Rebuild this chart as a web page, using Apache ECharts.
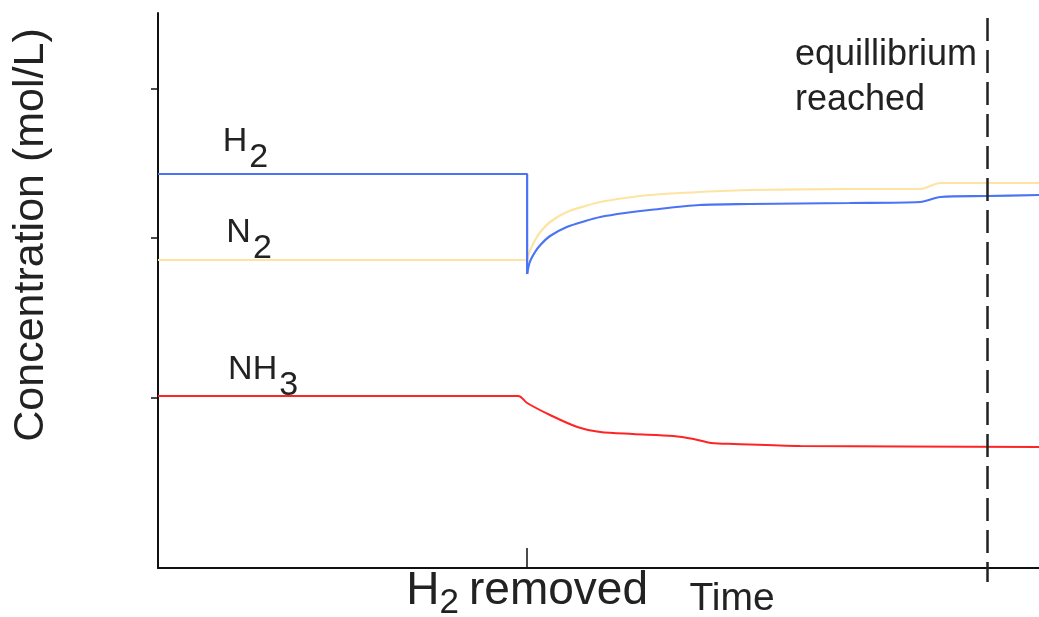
<!DOCTYPE html>
<html>
<head>
<meta charset="utf-8">
<style>
  html, body { margin: 0; padding: 0; background: #fff; }
  #chart { width: 1039px; height: 617px; }
</style>
<script src="https://cdn.jsdelivr.net/npm/echarts@6/dist/echarts.min.js"></script>
</head>
<body>
<div id="chart"></div>
<script>
// time axis in arbitrary units (0..10), concentration in arbitrary units
const removedAt = 4.19;
const equilibriumAt = 9.41;
const yTicks = [1.70, 3.30, 4.79];

const h2Time = [0, 4.19, 4.19, 4.22, 4.28, 4.34, 4.45, 4.64, 4.85, 5.02, 5.30, 5.58, 6.15, 6.72, 7.85, 8.65, 8.88, 9.41, 10];
const h2Conc = [3.94, 3.94, 2.94, 3.06, 3.16, 3.23, 3.32, 3.41, 3.47, 3.51, 3.55, 3.58, 3.63, 3.64, 3.65, 3.66, 3.71, 3.72, 3.73];
const h2DropIndex = 2; // point where H2 is removed (bottom of the drop)

const n2Time = [0, 4.17, 4.22, 4.28, 4.34, 4.45, 4.64, 4.85, 5.02, 5.30, 5.58, 6.15, 6.72, 7.85, 8.65, 8.88, 10];
const n2Conc = [3.08, 3.08, 3.17, 3.28, 3.36, 3.46, 3.56, 3.62, 3.66, 3.70, 3.73, 3.76, 3.78, 3.79, 3.79, 3.85, 3.85];

const nh3Time = [0, 4.09, 4.19, 4.45, 4.76, 5.02, 5.39, 5.85, 6.08, 6.28, 6.54, 7.29, 10];
const nh3Conc = [1.72, 1.72, 1.65, 1.53, 1.41, 1.36, 1.34, 1.32, 1.29, 1.25, 1.24, 1.22, 1.21];

const zip = (xs, ys) => xs.map((x, i) => [x, ys[i]]);
const h2Data = zip(h2Time, h2Conc);

const ink = '#222';
const font = 'Liberation Sans';
const blue = '#4a73f5';

// label for a series: big letters + lowered subscript
const speciesLabel = (main, sub) => ({
  show: true,
  position: 'right',
  distance: 0,
  formatter: '{m|' + main + '}{s|' + sub + '}',
  rich: {
    m: { fontSize: 34, fontFamily: font, color: ink, verticalAlign: 'top', lineHeight: 36 },
    s: { fontSize: 34, fontFamily: font, color: ink, verticalAlign: 'top', lineHeight: 36, padding: [16, 0, 0, 2] }
  }
});

const hidden = { color: 'rgba(0,0,0,0)' };

const option = {
  animation: false,
  grid: { left: 158, right: 0, top: 13, bottom: 49, outerBoundsMode: 'none', containLabel: false },
  xAxis: [
    {
      type: 'value', min: 0, max: 10,
      axisLine: { lineStyle: { color: '#111', width: 2 } },
      axisTick: { inside: true, length: 20, customValues: [removedAt], lineStyle: { color: '#111', width: 1.5 } },
      axisLabel: {
        customValues: [removedAt],
        margin: 0,
        formatter: () => '{h|H}{s|2}{r|removed}',
        rich: {
          h: { fontSize: 46, fontFamily: font, color: ink, verticalAlign: 'top', lineHeight: 40 },
          s: { fontSize: 35, fontFamily: font, color: ink, verticalAlign: 'top', lineHeight: 40, padding: [18, 10, 0, 0] },
          r: { fontSize: 46, fontFamily: font, color: ink, verticalAlign: 'top', lineHeight: 40 }
        }
      },
      splitLine: { show: false }
    },
    {
      type: 'value', min: 0, max: 10, position: 'bottom',
      axisLine: { show: false },
      axisTick: { length: 14, customValues: [equilibriumAt], lineStyle: { color: ink, width: 2.5 } },
      axisLabel: { show: false },
      splitLine: { show: false }
    }
  ],
  yAxis: {
    type: 'value', min: 0, max: 5.55,
    axisLine: { show: true, lineStyle: { color: '#111', width: 2 } },
    axisTick: { show: true, length: 7, customValues: yTicks, lineStyle: { color: '#111', width: 1.5 } },
    axisLabel: { show: false },
    splitLine: { show: false }
  },
  series: [
    {
      // H2 before removal, incl. the sudden drop
      name: 'H2', type: 'line', showSymbol: false,
      data: h2Data.slice(0, h2DropIndex + 1),
      lineStyle: { color: blue, width: 2.2 },
      z: 3,
      markPoint: {
        symbol: 'circle', symbolSize: 1, itemStyle: hidden, silent: true,
        label: speciesLabel('H', '2'),
        data: [{ coord: [0.73, 4.25] }]
      },
      markLine: {
        symbol: 'none', silent: true, label: { show: false },
        lineStyle: { color: ink, type: [23, 9], width: 2.5 },
        data: [[{ coord: [equilibriumAt, 5.50] }, { coord: [equilibriumAt, 0] }]]
      }
    },
    {
      // H2 recovering after removal
      name: 'H2 ', type: 'line', showSymbol: false, smooth: 0.3,
      data: h2Data.slice(h2DropIndex),
      lineStyle: { color: blue, width: 2.2 },
      z: 3
    },
    {
      name: 'N2', type: 'line', showSymbol: false, smooth: 0.3,
      data: zip(n2Time, n2Conc),
      lineStyle: { color: '#fde4a2', width: 2.2 },
      z: 2,
      markPoint: {
        symbol: 'circle', symbolSize: 1, itemStyle: hidden, silent: true,
        label: speciesLabel('N', '2'),
        data: [{ coord: [0.77, 3.34] }]
      }
    },
    {
      name: 'NH3', type: 'line', showSymbol: false, smooth: 0.3,
      data: zip(nh3Time, nh3Conc),
      lineStyle: { color: '#ff2424', width: 2 },
      z: 2,
      markPoint: {
        symbol: 'circle', symbolSize: 1, itemStyle: hidden, silent: true,
        label: speciesLabel('NH', '3'),
        data: [{ coord: [0.79, 1.97] }]
      }
    }
  ],
  graphic: [
    {
      type: 'text', x: 31, y: 235, rotation: Math.PI / 2,
      style: { text: 'Concentration (mol/L)', font: '43px "Liberation Sans"', fill: ink, align: 'center', verticalAlign: 'middle' }
    },
    {
      type: 'text', x: 732, y: 599,
      style: { text: 'Time', font: '39px "Liberation Sans"', fill: ink, align: 'center', verticalAlign: 'middle' }
    },
    {
      type: 'text', x: 795, y: 33,
      style: { text: 'equillibrium\nreached', font: '36px "Liberation Sans"', lineHeight: 45, fill: ink, align: 'left', verticalAlign: 'top' }
    }
  ]
};

const chart = echarts.init(document.getElementById('chart'));
chart.setOption(option);
</script>
</body>
</html>
